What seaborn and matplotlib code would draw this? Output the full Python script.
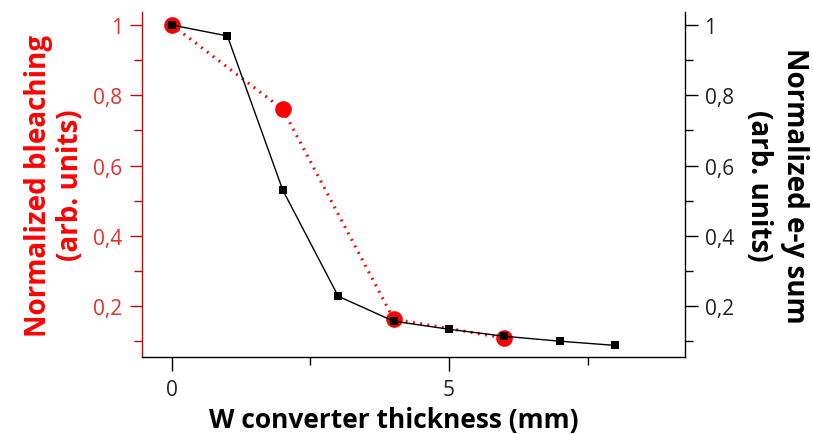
import matplotlib
matplotlib.use("Agg")
import matplotlib.pyplot as plt
import seaborn as sns
import pandas as pd
from matplotlib.ticker import FuncFormatter, MultipleLocator

# Data
bleach_x = [0, 2, 4, 6]
bleach_y = [1.0, 0.76, 0.163, 0.109]
ey_x = [0, 1, 2, 3, 4, 5, 6, 7, 8]
ey_y = [1.0, 0.969, 0.53, 0.228, 0.157, 0.134, 0.114, 0.100, 0.088]

sns.set_style("ticks")
plt.rcParams['font.family'] = ['Open Sans', 'DejaVu Sans']
plt.rcParams['text.color'] = 'black'

RED = "#ff0000"
RED_TXT = "#e3302f"
RED_SPINE = "#b01010"

fig = plt.figure(figsize=(8.13, 4.35), dpi=100)
ax1 = fig.add_axes([0.1747, 0.177, 0.668, 0.793])
ax2 = ax1.twinx()

df1 = pd.DataFrame({"x": bleach_x, "y": bleach_y})
df2 = pd.DataFrame({"x": ey_x, "y": ey_y})

sns.lineplot(data=df1, x="x", y="y", ax=ax1, color=RED, linestyle=(0, (0.6, 1.8)),
             linewidth=2.2, marker="o", markersize=12, markeredgewidth=0,
             markerfacecolor=RED)
sns.lineplot(data=df2, x="x", y="y", ax=ax2, color="black", linewidth=1.0,
             marker="s", markersize=6, markeredgewidth=0, markerfacecolor="black")

for ax in (ax1, ax2):
    ax.set_xlim(-0.54, 9.26)
    ax.set_ylim(0.055, 1.037)
    ax.yaxis.set_major_locator(MultipleLocator(0.2))
    ax.yaxis.set_minor_locator(MultipleLocator(0.1))
    ax.spines['top'].set_visible(False)

fmt = FuncFormatter(lambda v, p: ("%g" % round(v, 2)).replace(".", ","))
ax1.yaxis.set_major_formatter(fmt)
ax2.yaxis.set_major_formatter(fmt)

ax1.xaxis.set_major_locator(MultipleLocator(5))
ax1.xaxis.set_minor_locator(MultipleLocator(2.5))

ax1.spines['left'].set_color(RED_SPINE)
ax1.spines['right'].set_visible(False)
ax2.spines['left'].set_visible(False)
ax2.spines['bottom'].set_visible(False)
ax1.spines['bottom'].set_color("black")
ax2.spines['right'].set_color("black")
for sp in ('left', 'bottom'):
    ax1.spines[sp].set_linewidth(1.0)
ax2.spines['right'].set_linewidth(1.0)

ax1.tick_params(axis='y', which='major', direction='out', length=9, width=1,
                colors=RED_SPINE, labelcolor=RED_TXT, labelsize=15, pad=5)
ax1.tick_params(axis='y', which='minor', direction='out', length=6, width=1, colors=RED_SPINE)
ax1.tick_params(axis='x', which='major', direction='out', length=10, width=1,
                colors="black", labelcolor="#222222", labelsize=15, pad=6)
ax1.tick_params(axis='x', which='minor', direction='out', length=6, width=1, colors="black")
ax2.tick_params(axis='y', which='major', direction='out', length=9, width=1,
                colors="black", labelcolor="#222222", labelsize=15, pad=5)
ax2.tick_params(axis='y', which='minor', direction='out', length=6, width=1, colors="black")

ax1.set_xlabel("W converter thickness (mm)", fontsize=19, fontweight='bold',
               color="black", labelpad=4)
ax1.xaxis.label.set_x(0.464)
ax1.set_ylabel("Normalized bleaching\n(arb. units)", fontsize=20, fontweight='bold',
               color=RED, labelpad=6, linespacing=1.15)
ax2.set_ylabel("Normalized e-y sum\n(arb. units)", fontsize=20, fontweight='bold',
               color="black", rotation=270, labelpad=54, linespacing=1.3)

fig.savefig("out.png", dpi=100)
